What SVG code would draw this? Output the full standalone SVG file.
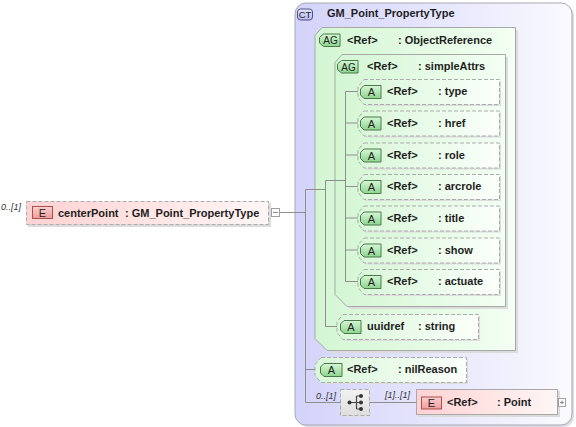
<svg xmlns="http://www.w3.org/2000/svg" width="576" height="427" viewBox="0 0 576 427">
<defs>
<linearGradient id="ctG" x1="0" y1="0" x2="1" y2="0"><stop offset="0" stop-color="#d3d3fb"/><stop offset="0.55" stop-color="#e8e8fd"/><stop offset="1" stop-color="#fafaff"/></linearGradient>
<linearGradient id="agG" x1="0" y1="0" x2="1" y2="0"><stop offset="0" stop-color="#d3f6d3"/><stop offset="1" stop-color="#f3fff3"/></linearGradient>
<linearGradient id="atG" x1="0" y1="0" x2="1" y2="0"><stop offset="0" stop-color="#d8f7d8"/><stop offset="1" stop-color="#fbfffb"/></linearGradient>
<linearGradient id="elG" x1="0" y1="0" x2="1" y2="0"><stop offset="0" stop-color="#ffd2d2"/><stop offset="1" stop-color="#fff6f6"/></linearGradient>
<linearGradient id="icGr" x1="0" y1="0" x2="0" y2="1"><stop offset="0" stop-color="#d6f8d6"/><stop offset="1" stop-color="#8ed48e"/></linearGradient>
<linearGradient id="icRd" x1="0" y1="0" x2="0" y2="1"><stop offset="0" stop-color="#fcd0d0"/><stop offset="1" stop-color="#f09a9a"/></linearGradient>
<linearGradient id="icCt" x1="0" y1="0" x2="0" y2="1"><stop offset="0" stop-color="#e4e4fc"/><stop offset="1" stop-color="#b8b8ec"/></linearGradient>
<linearGradient id="sqG" x1="0" y1="0" x2="0" y2="1"><stop offset="0" stop-color="#f2f2f2"/><stop offset="1" stop-color="#dedede"/></linearGradient>
</defs>
<style>
.t{font-family:"Liberation Sans",Arial,sans-serif;font-size:11px;font-weight:bold;fill:#1e1e1e}
.ic{font-family:"Liberation Sans",Arial,sans-serif;font-size:10px;fill:#222;text-anchor:middle}
.occ{font-family:"Liberation Sans",Arial,sans-serif;font-size:9px;font-style:italic;fill:#333}
.dash{stroke:#ababab;stroke-width:1;stroke-dasharray:4 2}
.sh{fill:#dcdcdc}
.solid{stroke:#a8a8a8;stroke-width:1}
.icg{fill:url(#icGr);stroke:#4a7a4a;stroke-width:1}
.icr{fill:url(#icRd);stroke:#a85050;stroke-width:1}
.conn{stroke:#8e8e8e;stroke-width:1;fill:none}
.btn{fill:#fff;stroke:#a0a0a0;stroke-width:1}
</style>

<g id="ct-GM_Point_PropertyType">
<rect x="297" y="5" width="277" height="422" rx="11" fill="#dcdce4"/>
<rect x="295" y="3" width="277" height="422" rx="11" fill="url(#ctG)" stroke="#a8a8b4" stroke-width="1"/>
<rect x="297.5" y="9" width="15" height="11" rx="3" fill="url(#icCt)" stroke="#50508a" stroke-width="1"/>
<text class="ic" x="305" y="18" style="font-size:9.5px">CT</text>
<text class="t" x="327" y="17">GM_Point_PropertyType</text>
</g>

<g id="ag-ObjectReference">
<path d="M325,30 H518 V353 H330 L318,341 V38 Z" class="sh"/>
<path d="M322,27.5 H515.5 V350.5 H327 L315,338.5 V35.5 Z" fill="url(#agG)" class="solid"/>
<path d="M323.5,34 H340 V46.5 H323.5 L319.5,43 V37.5 Z" class="icg"/>
<text class="ic" x="330.5" y="44.3">AG</text>
<text class="t" x="347" y="43.5">&lt;Ref&gt;</text>
<text class="t" x="398" y="43.5">: ObjectReference</text>
</g>

<g id="ag-simpleAttrs">
<path d="M345,57 H508 V309 H350 L338,297 V65 Z" class="sh"/>
<path d="M342,54.5 H505.5 V306.5 H347 L335,294.5 V62.5 Z" fill="url(#agG)" class="solid"/>
<path d="M341.5,60.5 H358 V73 H341.5 L337.5,69.5 V64 Z" class="icg"/>
<text class="ic" x="348.5" y="70.8">AG</text>
<text class="t" x="367" y="70">&lt;Ref&gt;</text>
<text class="t" x="418" y="70">: simpleAttrs</text>
</g>

<g id="attr-type">
<path d="M366,81 H501 V106 H366 L360,99 V88 Z" class="sh"/>
<path d="M364,79.5 H499.5 V104.5 H364 L358,97.5 V86.5 Z" fill="url(#atG)" class="dash"/>
<path d="M364,85.5 H381 V98.5 H364 L360.5,95 V89 Z" class="icg"/>
<text class="ic" x="371.5" y="96" style="font-size:11px">A</text>
<text class="t" x="387" y="95">&lt;Ref&gt;</text>
<text class="t" x="438" y="95">: type</text>
</g>

<g id="attr-href">
<path d="M366,112.5 H501 V137.5 H366 L360,130.5 V119.5 Z" class="sh"/>
<path d="M364,111 H499.5 V136 H364 L358,129 V118 Z" fill="url(#atG)" class="dash"/>
<path d="M364,117 H381 V130 H364 L360.5,126.5 V120.5 Z" class="icg"/>
<text class="ic" x="371.5" y="127.5" style="font-size:11px">A</text>
<text class="t" x="387" y="126.5">&lt;Ref&gt;</text>
<text class="t" x="438" y="126.5">: href</text>
</g>

<g id="attr-role">
<path d="M366,144.5 H501 V169.5 H366 L360,162.5 V151.5 Z" class="sh"/>
<path d="M364,143 H499.5 V168 H364 L358,161 V150 Z" fill="url(#atG)" class="dash"/>
<path d="M364,149 H381 V162 H364 L360.5,158.5 V152.5 Z" class="icg"/>
<text class="ic" x="371.5" y="159.5" style="font-size:11px">A</text>
<text class="t" x="387" y="158.5">&lt;Ref&gt;</text>
<text class="t" x="438" y="158.5">: role</text>
</g>

<g id="attr-arcrole">
<path d="M366,176 H501 V201 H366 L360,194 V183 Z" class="sh"/>
<path d="M364,174.5 H499.5 V199.5 H364 L358,192.5 V181.5 Z" fill="url(#atG)" class="dash"/>
<path d="M364,180.5 H381 V193.5 H364 L360.5,190 V184 Z" class="icg"/>
<text class="ic" x="371.5" y="191" style="font-size:11px">A</text>
<text class="t" x="387" y="190">&lt;Ref&gt;</text>
<text class="t" x="438" y="190">: arcrole</text>
</g>

<g id="attr-title">
<path d="M366,207.5 H501 V232.5 H366 L360,225.5 V214.5 Z" class="sh"/>
<path d="M364,206 H499.5 V231 H364 L358,224 V213 Z" fill="url(#atG)" class="dash"/>
<path d="M364,212 H381 V225 H364 L360.5,221.5 V215.5 Z" class="icg"/>
<text class="ic" x="371.5" y="222.5" style="font-size:11px">A</text>
<text class="t" x="387" y="221.5">&lt;Ref&gt;</text>
<text class="t" x="438" y="221.5">: title</text>
</g>

<g id="attr-show">
<path d="M366,239.5 H501 V264.5 H366 L360,257.5 V246.5 Z" class="sh"/>
<path d="M364,238 H499.5 V263 H364 L358,256 V245 Z" fill="url(#atG)" class="dash"/>
<path d="M364,244 H381 V257 H364 L360.5,253.5 V247.5 Z" class="icg"/>
<text class="ic" x="371.5" y="254.5" style="font-size:11px">A</text>
<text class="t" x="387" y="253.5">&lt;Ref&gt;</text>
<text class="t" x="438" y="253.5">: show</text>
</g>

<g id="attr-actuate">
<path d="M366,271 H501 V296 H366 L360,289 V278 Z" class="sh"/>
<path d="M364,269.5 H499.5 V294.5 H364 L358,287.5 V276.5 Z" fill="url(#atG)" class="dash"/>
<path d="M364,275.5 H381 V288.5 H364 L360.5,285 V279 Z" class="icg"/>
<text class="ic" x="371.5" y="286" style="font-size:11px">A</text>
<text class="t" x="387" y="285">&lt;Ref&gt;</text>
<text class="t" x="438" y="285">: actuate</text>
</g>

<g id="attr-uuidref">
<path d="M345,316 H480 V341 H345 L339,334 V323 Z" class="sh"/>
<path d="M343,314.5 H478.5 V339.5 H343 L337,332.5 V321.5 Z" fill="url(#atG)" class="dash"/>
<path d="M344,320.5 H361 V333.5 H344 L340.5,330 V324 Z" class="icg"/>
<text class="ic" x="351" y="331" style="font-size:11px">A</text>
<text class="t" x="367" y="330">uuidref</text>
<text class="t" x="418" y="330">: string</text>
</g>

<g id="attr-nilReason">
<path d="M323,359 H468 V384 H323 L317,377 V366 Z" class="sh"/>
<path d="M321,357.5 H466.5 V382.5 H321 L315,375.5 V364.5 Z" fill="url(#atG)" class="dash"/>
<path d="M324,363.5 H342 V376.5 H324 L320.5,373 V367 Z" class="icg"/>
<text class="ic" x="331.5" y="374" style="font-size:11px">A</text>
<text class="t" x="347" y="373">&lt;Ref&gt;</text>
<text class="t" x="398" y="373">: nilReason</text>
</g>

<g id="sequence">
<text class="occ" x="316" y="399">0..[1]</text>
<rect x="342" y="391" width="29" height="26" fill="#e0e0e0"/>
<rect x="340.5" y="389.5" width="29" height="26" fill="url(#sqG)" class="dash"/>
<path d="M349.5,402.5 H356.5 M356.5,396 V409 M356.5,396 H361 M356.5,402.5 H361 M356.5,409 H361" stroke="#444" stroke-width="1.2" fill="none"/>
<circle cx="349.5" cy="402.5" r="2" fill="#333"/>
<circle cx="361" cy="396" r="2" fill="#333"/>
<circle cx="361" cy="402.5" r="2" fill="#333"/>
<circle cx="361" cy="409" r="2" fill="#333"/>
</g>

<g id="el-Point">
<text class="occ" x="385" y="398">[1]..[1]</text>
<rect x="418" y="391" width="142" height="26" fill="#dcdcdc"/>
<rect x="416.5" y="389.5" width="141" height="25" fill="url(#elG)" class="solid"/>
<rect x="421.5" y="397" width="20" height="12" class="icr"/>
<text class="ic" x="431.5" y="407" style="font-size:11px">E</text>
<text class="t" x="447" y="406">&lt;Ref&gt;</text>
<text class="t" x="497" y="406">: Point</text>
<rect x="558.5" y="398.5" width="7" height="8" class="btn"/>
<path d="M560,402.5 H564 M562,400.5 V404.5" stroke="#888" stroke-width="1"/>
</g>

<g id="el-centerPoint">
<text class="occ" x="1" y="210">0..[1]</text>
<rect x="28" y="203" width="243" height="24" fill="#dcdcdc"/>
<rect x="26.5" y="201.5" width="242" height="23" fill="url(#elG)" class="dash"/>
<rect x="32.5" y="206.5" width="20" height="12" class="icr"/>
<text class="ic" x="42.5" y="216.5" style="font-size:11px">E</text>
<text class="t" x="58" y="217">centerPoint</text>
<text class="t" x="125" y="217">: GM_Point_PropertyType</text>
<rect x="271.5" y="208.5" width="8" height="8" class="btn"/>
<path d="M273,212.5 H278" stroke="#888" stroke-width="1"/>
</g>

<g id="connectors">
<path class="conn" d="M279.5,212.5 H305.5 M305.5,189.5 V402.5 M305.5,189.5 H325.5 M305.5,369.5 H315 M305.5,402.5 H340.5 M369.5,402.5 H416.5"/>
<path class="conn" d="M325.5,180.5 V326.5 H337 M325.5,180.5 H345.5"/>
<path class="conn" d="M345.5,91.5 V281.5 M345.5,91.5 H358 M345.5,123 H358 M345.5,155 H358 M345.5,186.5 H358 M345.5,218 H358 M345.5,250 H358 M345.5,281.5 H358"/>
</g>
</svg>
